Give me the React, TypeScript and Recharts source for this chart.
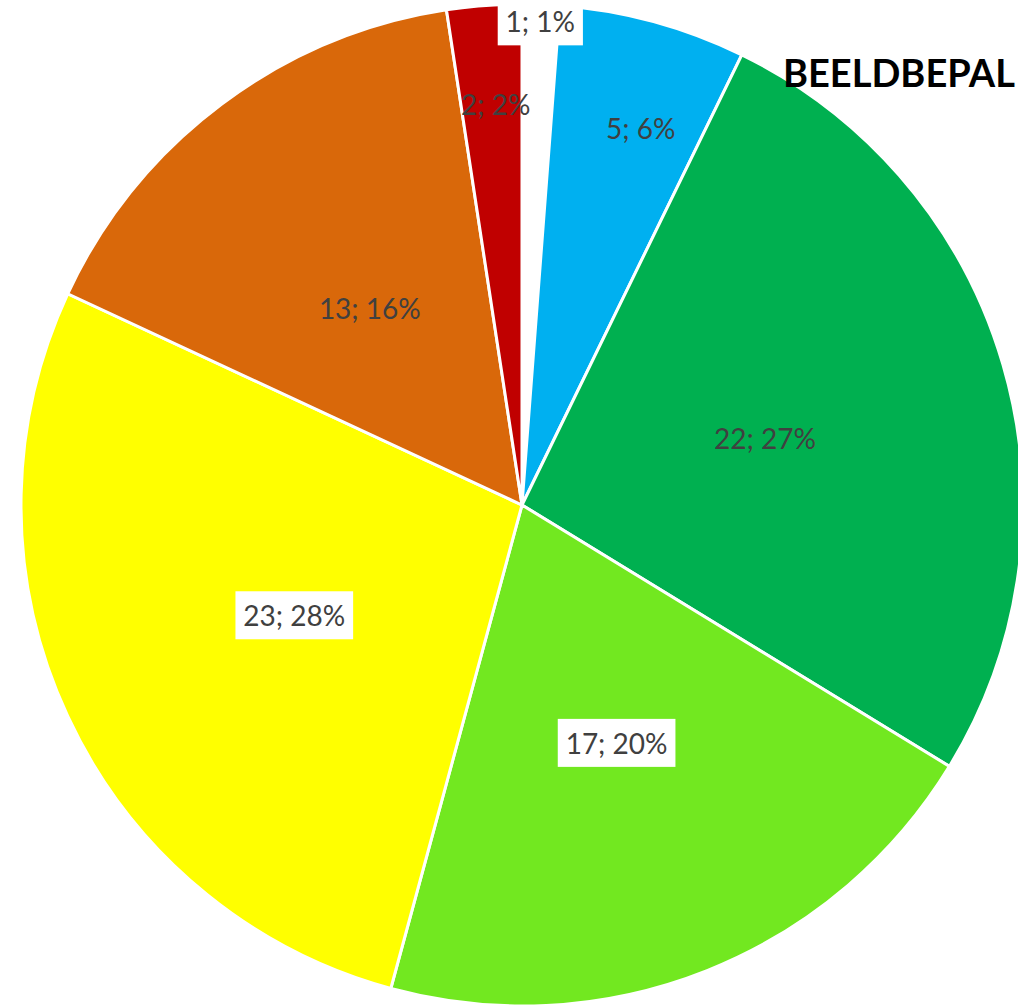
import React from "react";
import { PieChart, Pie, Cell } from "recharts";

const categories = ["A", "B", "C", "D", "E", "F", "G"];
const values = [1, 5, 22, 17, 23, 13, 2];
const colors = ["#FFFFFF", "#00B0F0", "#00B050", "#72E820", "#FFFF00", "#D9680A", "#C00000"];
const titleText = "BEELDBEPAL";

const data = categories.map((name, i) => ({ name, value: values[i] }));

// label layout (distance from centre in px, angular nudge in degrees clockwise)
const labelRadius = [484, 395, 252, 256, 253, 249, 402];
const labelNudge = [0, 2.3, 0.9, 0, -0.9, -0.8, 0.6];
const boxed = [true, false, false, true, true, false, false];

const RAD = Math.PI / 180;
const FONT = "Lato, 'Open Sans', sans-serif";
const FS = 28;

function textWidth(s: string) {
  let w = 0;
  for (const ch of s) {
    if (ch >= "0" && ch <= "9") w += 0.58;
    else if (ch === ";") w += 0.25;
    else if (ch === " ") w += 0.19;
    else if (ch === "%") w += 0.8;
    else w += 0.55;
  }
  return w * FS;
}

const renderLabel = (props: any) => {
  const { cx, cy, midAngle, index, value, percent } = props;
  const r = labelRadius[index];
  const a = midAngle - labelNudge[index];
  const x = cx + r * Math.cos(-a * RAD);
  const y = cy + r * Math.sin(-a * RAD);
  const txt = `${value}; ${Math.round(percent * 100)}%`;
  const w = textWidth(txt) + 18;
  const h = 48;
  return (
    <g key={`lbl-${index}`}>
      {boxed[index] && (
        <rect x={x - w / 2} y={y - h / 2} width={w} height={h} fill="#FFFFFF" />
      )}
      <text
        x={x}
        y={y}
        textAnchor="middle"
        dominantBaseline="central"
        fill="#404040"
        fontFamily={FONT}
        fontSize={FS}
      >
        {txt}
      </text>
    </g>
  );
};

export default function App() {
  return (
    <div
      style={{
        position: "absolute",
        left: 0,
        top: 0,
        width: 1018,
        height: 1007,
        overflow: "hidden",
        background: "#FFFFFF",
      }}
    >
      <PieChart width={1018} height={1007} margin={{ top: 0, right: 0, bottom: 0, left: 0 }}>
        <Pie
          data={data}
          dataKey="value"
          nameKey="name"
          cx={522}
          cy={505}
          outerRadius={501}
          innerRadius={0}
          startAngle={90}
          endAngle={-270}
          stroke="#FFFFFF"
          strokeWidth={3}
          label={renderLabel}
          labelLine={false}
          isAnimationActive={false}
        >
          {data.map((d, i) => (
            <Cell key={d.name} fill={colors[i]} />
          ))}
        </Pie>
      </PieChart>
      <svg
        width={1018}
        height={1007}
        style={{ position: "absolute", left: 0, top: 0, pointerEvents: "none" }}
      >
        <text x={783} y={87} fontFamily={FONT} fontWeight="bold" fontSize={38} fill="#000000">
          {titleText}
        </text>
      </svg>
    </div>
  );
}
